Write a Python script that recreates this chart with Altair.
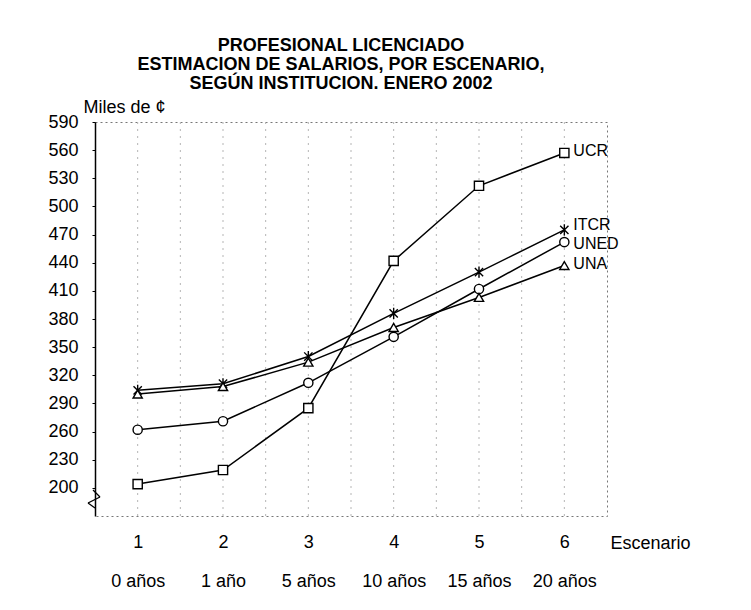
import json
import altair as alt
import pandas as pd

# ---- data ----
scenarios = [1, 2, 3, 4, 5, 6]
years = ["0 años", "1 año", "5 años", "10 años", "15 años", "20 años"]
institutions = ["UCR", "ITCR", "UNED", "UNA"]
ucr = [204, 219, 285, 442, 522, 557]
itcr = [304, 311, 340, 386, 430, 475]
uned = [262, 271, 312, 361, 412, 462]
una = [300, 308, 334, 371, 403, 437]
y_ticks = list(range(200, 591, 30))
grid_x = [s + d for s in scenarios for d in (0, 0.5)][:-1]
title_lines = [
    "PROFESIONAL LICENCIADO",
    "ESTIMACION DE SALARIOS, POR ESCENARIO,",
    "SEGÚN INSTITUCION. ENERO 2002",
]

series = {"UCR": ucr, "ITCR": itcr, "UNED": uned, "UNA": una}
rows = []
for inst in institutions:
    for s, v in zip(scenarios, series[inst]):
        rows.append({"Escenario": s, "Salario": v, "Institucion": inst})
df = pd.DataFrame(rows)

FONT = "Liberation Sans"
W, H = 512, 394
asterisk = "M-0.9,-0.9L0.9,0.9M-0.9,0.9L0.9,-0.9M0,-1.2L0,1.2"
label_dy = {"UCR": -2, "ITCR": -5, "UNED": 2, "UNA": -2}

years_js = json.dumps(years, ensure_ascii=False)

x_enc = alt.X(
    "Escenario:Q",
    scale=alt.Scale(domain=[0.5, 6.5], nice=False, zero=False),
    axis=alt.Axis(
        values=scenarios,
        labelExpr=f"[format(datum.value, 'd'), {years_js}[datum.value - 1]]",
        labelLineHeight=39,
        labelBaseline="top",
        labelPadding=17,
        labelFontSize=18,
        labelFont=FONT,
        labelColor="black",
        labelOverlap=False,
        domain=False,
        ticks=False,
        grid=False,
        title="Escenario",
        titleX=W + 3,
        titleY=27,
        titleAlign="left",
        titleBaseline="middle",
        titleFontSize=18,
        titleFont=FONT,
        titleFontWeight="normal",
        titleColor="black",
    ),
)
y_enc = alt.Y(
    "Salario:Q",
    scale=alt.Scale(domain=[170, 590], nice=False, zero=False),
    axis=alt.Axis(
        values=y_ticks,
        grid=False,
        domainColor="black",
        domainWidth=1.5,
        tickColor="black",
        tickSize=3,
        labelFontSize=18,
        labelFont=FONT,
        labelColor="black",
        labelPadding=14,
        labelOverlap=False,
        labelBound=False,
        title="Miles de ¢",
        titleAngle=0,
        titleX=-12,
        titleY=-15,
        titleAlign="left",
        titleBaseline="middle",
        titleFontSize=18,
        titleFont=FONT,
        titleFontWeight="normal",
        titleColor="black",
    ),
)

grid = alt.Chart(pd.DataFrame({"Escenario": grid_x})).mark_rule(
    color="#b5b5b5", strokeDash=[2, 5], strokeWidth=1
).encode(x=x_enc, y=alt.value(0), y2=alt.value(H))

lines = alt.Chart(df).mark_line(color="black", strokeWidth=1.5).encode(
    x=x_enc, y=y_enc, detail="Institucion:N", order="Escenario:Q"
)

points = alt.Chart(df).mark_point(
    fill="white", fillOpacity=1, stroke="black", strokeWidth=1.4, opacity=1, size=85
).encode(
    x=x_enc,
    y=y_enc,
    shape=alt.Shape(
        "Institucion:N",
        scale=alt.Scale(domain=institutions, range=["square", asterisk, "circle", "triangle-up"]),
        legend=None,
    ),
)

label_layers = []
for inst in institutions:
    label_layers.append(
        alt.Chart(df)
        .transform_filter((alt.datum.Escenario == 6) & (alt.datum.Institucion == inst))
        .mark_text(align="left", baseline="middle", dx=9, dy=label_dy[inst],
                   fontSize=16, font=FONT, color="black")
        .encode(x=x_enc, y=y_enc, text="Institucion:N")
    )

one = alt.Data(values=[{}])
zig1 = alt.Chart(one).mark_rule(color="black", strokeWidth=1.3).encode(
    x=alt.value(-2), y=alt.value(368), x2=alt.value(5), y2=alt.value(375))
zig2 = alt.Chart(one).mark_rule(color="black", strokeWidth=1.3).encode(
    x=alt.value(5), y=alt.value(375), x2=alt.value(-7), y2=alt.value(381))
zig3 = alt.Chart(one).mark_rule(color="black", strokeWidth=1.3).encode(
    x=alt.value(-7), y=alt.value(381), x2=alt.value(0), y2=alt.value(386))

chart = alt.layer(grid, lines, points, *label_layers, zig1, zig2, zig3).properties(
    width=W,
    height=H,
    autosize=alt.AutoSizeParams(type="none"),
    padding={"left": 87, "top": 114, "right": 136, "bottom": 78},
    title=alt.TitleParams(
        text=title_lines,
        fontSize=18,
        fontWeight="bold",
        font=FONT,
        lineHeight=19,
        anchor="middle",
        dx=-10,
        offset=5,
        color="black",
    ),
).configure_view(stroke="#777777", strokeDash=[2, 3], strokeWidth=1)

chart.save("out.html", embed_options={"renderer": "svg", "actions": False})
